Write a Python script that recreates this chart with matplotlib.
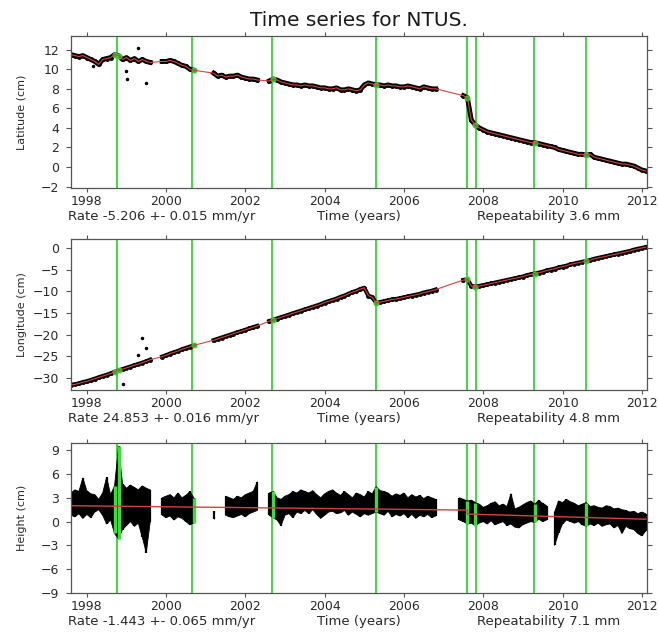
import numpy as np
import matplotlib.pyplot as plt

plt.rcParams['font.family'] = ['DejaVu Sans']

nan = np.nan

# epochs (decimal years), one sample every 0.1 yr
epoch = np.array([
    1997.6, 1997.7, 1997.8, 1997.9,
    1998.0, 1998.1, 1998.2, 1998.3, 1998.4, 1998.5, 1998.6, 1998.7, 1998.8, 1998.9,
    1999.0, 1999.1, 1999.2, 1999.3, 1999.4, 1999.5, 1999.6, 1999.7, 1999.8, 1999.9,
    2000.0, 2000.1, 2000.2, 2000.3, 2000.4, 2000.5, 2000.6, 2000.7, 2000.8, 2000.9,
    2001.0, 2001.1, 2001.2, 2001.3, 2001.4, 2001.5, 2001.6, 2001.7, 2001.8, 2001.9,
    2002.0, 2002.1, 2002.2, 2002.3, 2002.4, 2002.5, 2002.6, 2002.7, 2002.8, 2002.9,
    2003.0, 2003.1, 2003.2, 2003.3, 2003.4, 2003.5, 2003.6, 2003.7, 2003.8, 2003.9,
    2004.0, 2004.1, 2004.2, 2004.3, 2004.4, 2004.5, 2004.6, 2004.7, 2004.8, 2004.9,
    2005.0, 2005.1, 2005.2, 2005.3, 2005.4, 2005.5, 2005.6, 2005.7, 2005.8, 2005.9,
    2006.0, 2006.1, 2006.2, 2006.3, 2006.4, 2006.5, 2006.6, 2006.7, 2006.8, 2006.9,
    2007.0, 2007.1, 2007.2, 2007.3, 2007.4, 2007.5, 2007.6, 2007.7, 2007.8, 2007.9,
    2008.0, 2008.1, 2008.2, 2008.3, 2008.4, 2008.5, 2008.6, 2008.7, 2008.8, 2008.9,
    2009.0, 2009.1, 2009.2, 2009.3, 2009.4, 2009.5, 2009.6, 2009.7, 2009.8, 2009.9,
    2010.0, 2010.1, 2010.2, 2010.3, 2010.4, 2010.5, 2010.6, 2010.7, 2010.8, 2010.9,
    2011.0, 2011.1, 2011.2, 2011.3, 2011.4, 2011.5, 2011.6, 2011.7, 2011.8, 2011.9,
    2012.0, 2012.1])

lat = np.array([
    11.5, 11.4, 11.3, 11.4,
    11.2, 11.0, 10.8, 10.5, 11.0, 11.1, 11.2, 11.5, 11.4, 11.0,
    11.2, 10.9, 11.1, 10.8, 11.0, 10.8, 10.7, nan, nan, 10.8,
    10.8, 10.9, 10.8, 10.6, 10.4, 10.3, 10.0, 9.9, nan, nan,
    nan, nan, 9.6, 9.3, 9.4, 9.2, 9.3, 9.3, 9.4, 9.2,
    9.1, 9.0, 9.0, 8.9, nan, nan, 8.8, 9.0, 8.9, 8.7,
    8.6, 8.5, 8.4, 8.4, 8.3, 8.4, 8.3, 8.3, 8.2, 8.1,
    8.1, 8.0, 8.0, 8.1, 7.9, 7.9, 8.0, 7.9, 7.8, 7.9,
    8.4, 8.6, 8.5, 8.4, 8.4, 8.3, 8.4, 8.3, 8.3, 8.2,
    8.2, 8.3, 8.2, 8.1, 8.0, 8.2, 8.1, 8.0, 8.0, nan,
    nan, nan, nan, nan, nan, 7.3, 7.1, 4.8, 4.3, 4.0,
    3.8, 3.6, 3.5, 3.4, 3.3, 3.2, 3.1, 3.0, 2.9, 2.8,
    2.7, 2.6, 2.5, 2.5, 2.4, 2.3, 2.2, 2.1, 2.0, 1.8,
    1.7, 1.6, 1.5, 1.4, 1.3, 1.3, 1.2, 1.3, 1.0, 0.9,
    0.8, 0.7, 0.6, 0.5, 0.4, 0.3, 0.3, 0.2, 0.1, -0.1,
    -0.3, -0.4])

lon = np.array([
    -31.6, -31.5, -31.3, -31.0,
    -30.8, -30.5, -30.2, -29.9, -29.6, -29.3, -29.0, -28.6, -28.3, -28.0,
    -27.7, -27.4, -27.1, -26.8, -26.5, -26.2, -25.8, nan, nan, -25.1,
    -24.8, -24.4, -24.1, -23.8, -23.4, -23.1, -22.8, -22.5, nan, nan,
    nan, nan, -21.3, -21.0, -20.7, -20.4, -20.1, -19.8, -19.5, -19.2,
    -18.9, -18.6, -18.3, -18.0, nan, nan, -16.9, -16.6, -16.3, -16.0,
    -15.7, -15.4, -15.1, -14.8, -14.5, -14.2, -13.9, -13.6, -13.3, -13.0,
    -12.6, -12.3, -12.0, -11.7, -11.3, -11.0, -10.6, -10.2, -9.9, -9.5,
    -9.2, -11.0, -11.4, -12.7, -12.5, -12.3, -12.1, -11.9, -11.8, -11.6,
    -11.4, -11.2, -11.0, -10.8, -10.6, -10.3, -10.1, -9.9, -9.6, nan,
    nan, nan, nan, nan, nan, -7.4, -7.2, -8.8, -8.9, -8.8,
    -8.6, -8.4, -8.2, -8.0, -7.8, -7.6, -7.4, -7.2, -7.0, -6.8,
    -6.6, -6.3, -6.1, -5.9, -5.7, -5.5, -5.2, -5.0, -4.8, -4.5,
    -4.3, -4.1, -3.8, -3.6, -3.4, -3.2, -3.0, -2.8, -2.5, -2.3,
    -2.1, -1.9, -1.7, -1.5, -1.3, -1.1, -0.9, -0.7, -0.4, -0.2,
    0.0, 0.2])

# height scatter: lowest / highest value seen in each 0.1 yr bin
hgt_lo = np.array([
    0.8, 0.6, 1.0, 0.4,
    0.9, 0.5, 1.2, 1.5, 0.8, -0.3, 0.2, -1.5, -2.2, -1.0,
    -0.5, 0.0, -0.6, -0.2, -2.0, -3.9, 0.0, nan, nan, 0.8,
    0.5, 0.7, 0.2, 0.6, 0.4, 0.0, -0.4, -0.2, nan, nan,
    nan, nan, 0.3, nan, nan, 0.8, 0.6, 0.5, 0.7, 0.9,
    0.6, 1.0, 1.2, 1.4, nan, nan, 0.8, 0.5, 0.2, -0.5,
    0.8, 1.0, 0.5, 1.2, 1.0, 1.4, 1.0, 1.5, 0.9, 0.4,
    0.8, 1.2, 1.3, 1.0, 1.1, 1.4, 0.8, 1.2, 0.9, 0.6,
    1.0, 0.8, 1.0, 1.2, 1.0, 0.8, 1.3, 0.6, 0.9, 0.7,
    1.0, 0.5, 0.9, 0.4, 0.8, 0.6, 0.9, 0.5, 0.7, nan,
    nan, nan, nan, nan, 0.2, 0.0, -0.3, -0.2, -0.5, -0.2,
    0.0, -0.3, 0.1, -0.4, -0.2, 0.0, -0.5, -0.3, -0.7, -0.8,
    -0.4, -0.2, 0.0, -0.1, 0.3, 0.0, 0.2, nan, -3.0, -1.5,
    -0.3, 0.2, 0.0, -0.2, 0.0, -0.4, -0.6, -0.3, -0.5, -0.2,
    -0.6, -0.4, -0.3, -0.8, -0.5, -1.5, -0.6, -0.9, -1.0, -1.5,
    -1.8, -1.2])

hgt_hi = np.array([
    3.6, 4.0, 3.8, 5.5,
    3.9, 3.5, 3.4, 2.8, 3.6, 5.6, 3.4, 4.5, 9.5, 4.8,
    4.2, 4.6, 4.3, 4.0, 4.5, 4.2, 4.0, nan, nan, 3.0,
    3.2, 3.4, 3.0, 3.6, 3.0, 3.3, 3.8, 3.0, nan, nan,
    nan, nan, 1.3, nan, nan, 3.2, 3.0, 2.8, 3.2, 3.0,
    3.4, 3.6, 3.8, 5.0, nan, nan, 3.6, 3.8, 3.0, 2.8,
    3.2, 3.4, 3.8, 3.6, 4.0, 3.8, 3.6, 3.9, 3.4, 3.0,
    3.5, 3.8, 4.0, 3.6, 3.3, 3.8, 3.4, 3.0, 3.6, 3.4,
    3.1, 3.8, 3.5, 4.4, 3.9, 3.8, 3.6, 3.2, 3.5, 3.3,
    3.6, 3.0, 3.4, 3.1, 3.3, 2.9, 3.2, 3.0, 2.8, nan,
    nan, nan, nan, nan, 3.0, 2.8, 2.6, 2.7, 2.4, 2.2,
    1.8, 2.0, 2.3, 2.5, 2.0, 2.2, 1.9, 3.5, 1.6, 1.8,
    2.1, 2.4, 2.6, 2.2, 2.7, 2.3, 2.0, nan, 1.2, 2.6,
    2.4, 2.8, 2.5, 2.3, 2.0, 2.2, 2.4, 1.9, 2.0, 1.8,
    1.7, 2.0, 1.9, 1.6, 1.7, 1.5, 1.4, 1.2, 1.3, 1.0,
    1.2, 1.0])

# stray points
lat_out_t = [1998.15, 1998.98, 1999.02, 1999.3, 1999.5]
lat_out_y = [10.3, 9.8, 9.0, 12.2, 8.6]
lon_out_t = [1998.9, 1999.3, 1999.4, 1999.5]
lon_out_y = [-31.4, -24.7, -20.8, -23.0]

# height model (piecewise linear with offset at the 2007.6 event)
hgt_model_t = [1997.6, 2007.6, 2007.6, 2012.1]
hgt_model = [2.0, 1.45, 0.95, 0.3]

# equipment changes / earthquakes
events = [1998.76, 2000.66, 2002.68, 2005.29, 2007.6, 2007.82, 2009.27, 2010.6]

rates = ['Rate -5.206 +- 0.015 mm/yr', 'Rate 24.853 +- 0.016 mm/yr',
         'Rate -1.443 +- 0.065 mm/yr']
repeat = ['Repeatability 3.6 mm', 'Repeatability 4.8 mm', 'Repeatability 7.1 mm']
ylabels = ['Latitude (cm)', 'Longitude (cm)', 'Height (cm)']

ink = '#2a2a2a'
green = '#3ddc3d'
red = '#d84040'

near = np.zeros(len(epoch), bool)
for ev in events:
    near |= np.abs(epoch - ev) < 0.06


def setup(ax, ylim, yticks, i):
    ax.set_xlim(1997.6, 2012.13)
    ax.set_ylim(*ylim)
    ax.set_xticks(range(1998, 2013, 2))
    ax.set_yticks(yticks)
    ax.tick_params(axis='x', direction='out', length=3, pad=1.8, top=True,
                   labelsize=9, labelcolor=ink, color='#555555')
    ax.tick_params(axis='y', direction='out', length=3.5, pad=5, right=True,
                   labelsize=9, labelcolor=ink, color='#555555')
    for s in ax.spines.values():
        s.set_color('#555555')
        s.set_linewidth(0.9)
    for ev in events:
        ax.axvline(ev, color=green, lw=1.4, zorder=1)
    ax.set_ylabel(ylabels[i], fontsize=8, color=ink)
    ax.yaxis.set_label_coords(-0.077, 0.5)
    kw = dict(xycoords='axes fraction', textcoords='offset points',
              va='center', fontsize=9.5, color=ink)
    ax.annotate(rates[i], xy=(0, 0), xytext=(-2, -20.3), ha='left', **kw)
    ax.annotate('Time (years)', xy=(0.5, 0), xytext=(0, -20.3), ha='center', **kw)
    ax.annotate(repeat[i], xy=(0.705, 0), xytext=(0, -20.3), ha='left', **kw)


def draw_series(ax, y, out_t, out_y, lw):
    ok = ~np.isnan(y)
    ax.plot(epoch, y, color='black', lw=lw, marker='o', ms=2.5, zorder=2)
    ax.plot(out_t, out_y, '.', color='black', ms=3, zorder=2)
    ax.plot(epoch[ok], y[ok], color=red, lw=0.8, zorder=4)
    m = near & ok
    ax.plot(epoch[m], y[m], 'o', color=green, ms=3.5, alpha=0.8, zorder=3)


fig = plt.figure(figsize=(6.59, 6.32), dpi=100)
fig.text(0.545, 0.968, 'Time series for NTUS.', ha='center', va='center',
         fontsize=14.5, color='#1a1a1a')

ax1 = fig.add_axes([0.1077, 0.7025, 0.874, 0.2405])
setup(ax1, (-2.15, 13.4), range(-2, 13, 2), 0)
draw_series(ax1, lat, lat_out_t, lat_out_y, 3.5)

ax2 = fig.add_axes([0.1077, 0.383, 0.874, 0.239])
setup(ax2, (-32.8, 2.1), range(-30, 1, 5), 1)
draw_series(ax2, lon, lon_out_t, lon_out_y, 3)

ax3 = fig.add_axes([0.1077, 0.0617, 0.874, 0.2373])
setup(ax3, (-9.0, 9.9), range(-9, 10, 3), 2)
ok = ~np.isnan(hgt_lo)
ax3.fill_between(epoch, hgt_lo, hgt_hi, color='black', lw=0.6, zorder=2)
ax3.vlines(epoch[ok], hgt_lo[ok], hgt_hi[ok], color='black', lw=1.6, zorder=2)
m = near & ok
ax3.vlines(epoch[m], hgt_lo[m], hgt_hi[m], color=green, lw=2.4, zorder=3)
ax3.plot(hgt_model_t, hgt_model, color=red, lw=1.0, zorder=4)

fig.savefig('out.png', dpi=100)
